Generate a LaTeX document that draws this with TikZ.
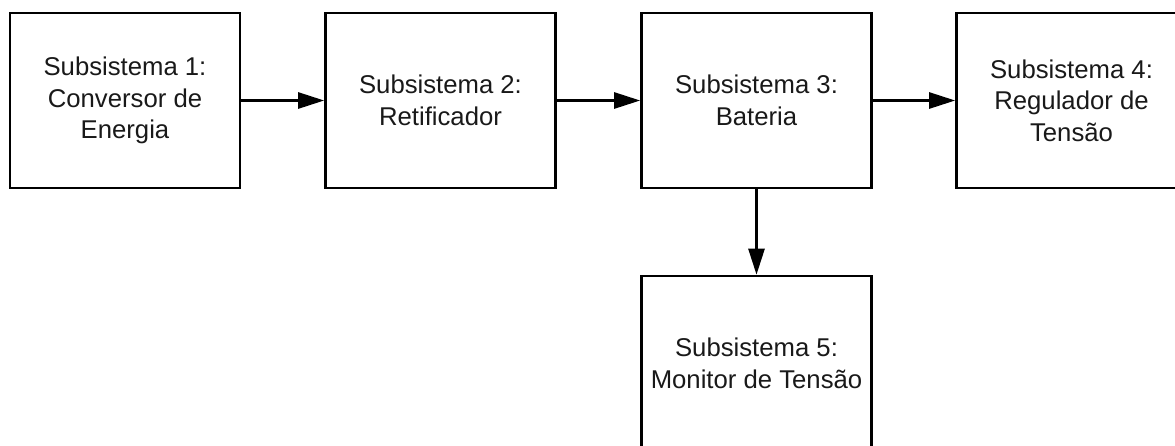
\documentclass[tikz,border=0pt]{standalone}
\usepackage{fontspec}
\setmainfont{Liberation Sans}
\usetikzlibrary{arrows.meta}
\begin{document}
\begin{tikzpicture}[x=1pt,y=-1pt,
  block/.style={draw=black, line width=2.6pt, minimum width=230pt, minimum height=175pt,
    align=center, inner sep=0pt, font=\fontsize{25.7}{31.5}\selectfont, text=black!90},
  arr/.style={line width=2.6pt, -{Triangle[length=26pt,width=16pt]}}]
\useasboundingbox (0,0) rectangle (1175,445);
\clip (0,0) rectangle (1175,445);
\node[block] (b1) at (125,100.5) {Subsistema 1:\\Conversor de\\Energia};
\node[block] (b2) at (440.5,100.5) {Subsistema 2:\\Retificador};
\node[block] (b3) at (756.5,100.5) {Subsistema 3:\\Bateria};
\node[block] (b4) at (1071.5,100.5) {Subsistema 4:\\Regulador de\\Tensão};
\node[block] (b5) at (756.5,363.5) {Subsistema 5:\\Monitor de Tensão};
\draw[arr] (b1.east) -- (b2.west);
\draw[arr] (b2.east) -- (b3.west);
\draw[arr] (b3.east) -- (b4.west);
\draw[arr] (b3.south) -- (b5.north);
\end{tikzpicture}
\end{document}
